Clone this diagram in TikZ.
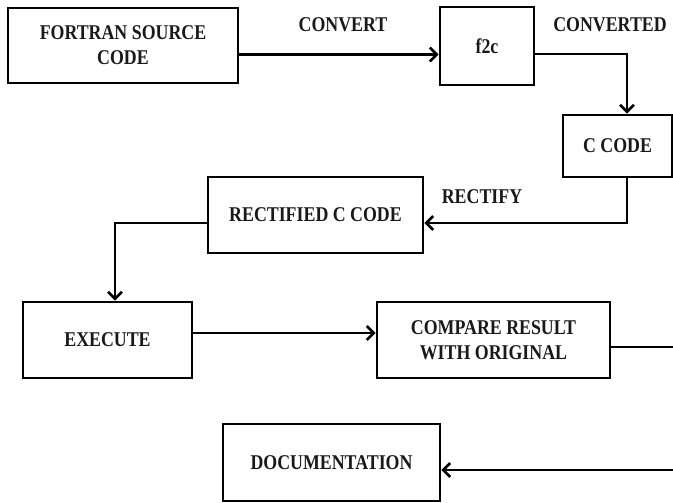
\documentclass[tikz,border=0pt]{standalone}
\usepackage{fontspec}
\setmainfont{Liberation Serif}[FakeStretch=0.85]
\usetikzlibrary{arrows.meta}

\begin{document}
\begin{tikzpicture}[x=1pt,y=-1pt,
  every node/.style={font=\fontsize{21pt}{25pt}\selectfont\bfseries, text=black!90, inner sep=0pt},
  stepbox/.style={draw=black, line width=2.8pt, align=center},
  flowline/.style={draw=black, line width=2.8pt, -{Straight Barb[length=7pt,width=14pt,line width=2.6pt]}},
  flowlabel/.style={anchor=center}]
  \useasboundingbox (0,0) rectangle (673,503);
  \clip (0,0) rectangle (673,503);

  % process boxes
  \node[stepbox, minimum width=230pt, minimum height=75pt] (fortran) at (123,45.5) {FORTRAN SOURCE\\CODE};
  \node[stepbox, minimum width=94pt,  minimum height=78pt] (f2c)     at (487,46)   {f2c};
  \node[stepbox, minimum width=109pt, minimum height=62pt] (ccode)   at (617.5,146) {C CODE};
  \node[stepbox, minimum width=215pt, minimum height=76pt] (rect)    at (315.5,215) {RECTIFIED C CODE};
  \node[stepbox, minimum width=169pt, minimum height=76pt] (exec)    at (107.5,340) {EXECUTE};
  \node[stepbox, minimum width=233pt, minimum height=76pt] (compare) at (493.5,340) {COMPARE RESULT\\WITH ORIGINAL};
  \node[stepbox, minimum width=217pt, minimum height=77pt] (doc)     at (331.5,462.5) {DOCUMENTATION};

  % edge labels
  \node[flowlabel] (lconvert)   at (343,25)  {CONVERT};
  \node[flowlabel] (lconverted) at (610,25)  {CONVERTED};
  \node[flowlabel] (lrectify)   at (482,197) {RECTIFY};

  % connectors
  \draw[flowline] ([yshift=-9pt]fortran.east) -- ([yshift=-9pt]fortran.east -| f2c.west);
  \draw[flowline] ([yshift=-8pt]f2c.east) -| ([xshift=9.5pt]ccode.north);
  \draw[flowline] ([xshift=9.5pt]ccode.south) |- ([yshift=-8pt]rect.east);
  \draw[flowline] ([yshift=-8pt]rect.west) -| ([xshift=7.5pt]exec.north);
  \draw[flowline] ([yshift=7pt]exec.east) -- ([yshift=7pt]exec.east -| compare.west);
  \draw[flowline] ([yshift=-7pt]compare.east) -- ++(100,0) |- ([yshift=-7.5pt]doc.east);
\end{tikzpicture}
\end{document}
